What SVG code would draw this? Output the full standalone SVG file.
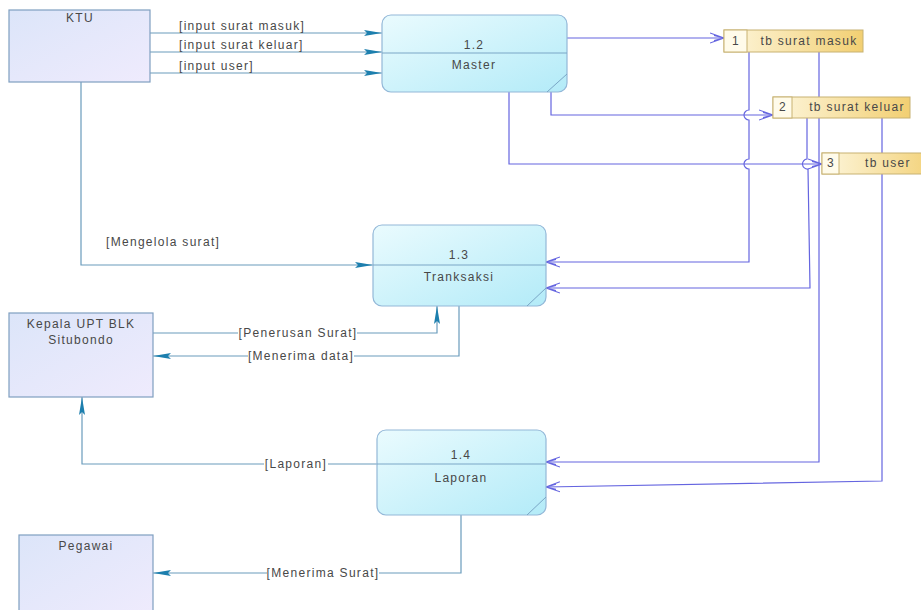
<svg xmlns="http://www.w3.org/2000/svg" width="921" height="610" viewBox="0 0 921 610">
<defs>
<linearGradient id="gEnt" x1="0" y1="0" x2="1" y2="1">
<stop offset="0" stop-color="#dce5f9"/><stop offset="1" stop-color="#efebfd"/>
</linearGradient>
<linearGradient id="gProc" x1="0" y1="0" x2="1" y2="1">
<stop offset="0" stop-color="#eafbfe"/><stop offset="1" stop-color="#b3ebf8"/>
</linearGradient>
<linearGradient id="gStore" x1="0" y1="0" x2="1" y2="0">
<stop offset="0" stop-color="#fdf6dc"/><stop offset="1" stop-color="#f2cf72"/>
</linearGradient>
<marker id="ta" viewBox="0 0 18 8" refX="18" refY="4" markerWidth="18" markerHeight="8" markerUnits="userSpaceOnUse" orient="auto">
<path d="M0,1 L18,4 L0,7 L3,4 Z" fill="#1d7fae"/>
</marker>
<marker id="pa" viewBox="0 0 15 12" refX="14" refY="6" markerWidth="15" markerHeight="12" markerUnits="userSpaceOnUse" orient="auto">
<path d="M0,1 L14,6 L0,11 M4,3.5 L14,6 L4,8.5" fill="none" stroke="#6565e0" stroke-width="1.1"/>
</marker>
</defs>
<style>
.ent{fill:url(#gEnt);stroke:#7f9fc0;stroke-width:1.2}
.proc{fill:url(#gProc);stroke:#93b8d8;stroke-width:1.2}
.div{stroke:#7aa6c6;stroke-width:1}
.store{fill:url(#gStore);stroke:#c8b272;stroke-width:1}
.num{fill:#fffbea;stroke:#c8b272;stroke-width:1}
.t{font-family:"Liberation Sans",Arial,sans-serif;font-size:12px;letter-spacing:1.3px;fill:#484848}
.c{text-anchor:middle}
.tl{fill:none;stroke:#6a9cbc;stroke-width:1.2}
.pl{fill:none;stroke:#6565e0;stroke-width:1.2}
.bg{fill:#ffffff}
</style>
<rect width="921" height="610" fill="#ffffff"/>

<g id="connectors">
<!-- KTU to Master -->
<path class="tl" d="M150,33 H382" marker-end="url(#ta)"/>
<path class="tl" d="M150,52 H382" marker-end="url(#ta)"/>
<path class="tl" d="M150,73 H382" marker-end="url(#ta)"/>
<text class="t" x="179" y="30">[input surat masuk]</text>
<text class="t" x="179" y="49">[input surat keluar]</text>
<text class="t" x="179" y="70">[input user]</text>
<!-- KTU to Transaksi -->
<path class="tl" d="M81,82 V265 H373" marker-end="url(#ta)"/>
<text class="t" x="106" y="246">[Mengelola surat]</text>
<!-- Penerusan Surat -->
<path class="tl" d="M153,333 H437 V306" marker-end="url(#ta)"/>
<rect class="bg" x="238" y="326" width="119" height="13"/>
<text class="t c" x="298" y="337">[Penerusan Surat]</text>
<!-- Menerima data -->
<path class="tl" d="M459,306 V356 H153" marker-end="url(#ta)"/>
<rect class="bg" x="248" y="349" width="106" height="13"/>
<text class="t c" x="301" y="360">[Menerima data]</text>
<!-- Laporan -->
<path class="tl" d="M377,464 H82 V397" marker-end="url(#ta)"/>
<rect class="bg" x="264" y="457" width="64" height="13"/>
<text class="t c" x="296" y="468">[Laporan]</text>
<!-- Menerima Surat -->
<path class="tl" d="M461,515 V573 H153" marker-end="url(#ta)"/>
<rect class="bg" x="267" y="566" width="112" height="13"/>
<text class="t c" x="323" y="577">[Menerima Surat]</text>

<!-- Master to stores -->
<path class="pl" d="M567,38 H724" marker-end="url(#pa)"/>
<path class="pl" d="M551,92 V115 H773" marker-end="url(#pa)"/>
<path class="pl" d="M509,92 V164 H822" marker-end="url(#pa)"/>
<!-- stores to Transaksi -->
<path class="pl" d="M749,52 V110 A5,5 0 0 0 749,120 V159 A5,5 0 0 0 749,169 V262 H546" marker-end="url(#pa)"/>
<path class="pl" d="M807,118 V159 A5,5 0 0 0 808,169 L810,288 H546" marker-end="url(#pa)"/>
<!-- stores to Laporan -->
<path class="pl" d="M819,52 V462 H546" marker-end="url(#pa)"/>
<path class="pl" d="M882,118 V481 L546,487" marker-end="url(#pa)"/>
</g>

<g id="ktu">
<rect class="ent" x="9" y="10" width="141" height="72"/>
<text class="t c" x="80" y="22">KTU</text>
</g>
<g id="kepala">
<rect class="ent" x="9" y="313" width="144" height="84"/>
<text class="t c" x="81" y="328">Kepala UPT BLK</text>
<text class="t c" x="81" y="344">Situbondo</text>
</g>
<g id="pegawai">
<rect class="ent" x="19" y="535" width="134" height="80"/>
<text class="t c" x="86" y="550">Pegawai</text>
</g>

<g id="p12">
<rect class="proc" x="382" y="15" width="185" height="77" rx="9"/>
<line class="div" x1="382" y1="53" x2="567" y2="53"/>
<line class="div" x1="547" y1="92" x2="567" y2="74"/>
<text class="t c" x="474" y="49">1.2</text>
<text class="t c" x="474" y="69">Master</text>
</g>
<g id="p13">
<rect class="proc" x="373" y="225" width="173" height="81" rx="9"/>
<line class="div" x1="373" y1="265" x2="546" y2="265"/>
<line class="div" x1="527" y1="306" x2="546" y2="288"/>
<text class="t c" x="459" y="259">1.3</text>
<text class="t c" x="459" y="281">Tranksaksi</text>
</g>
<g id="p14">
<rect class="proc" x="377" y="430" width="169" height="85" rx="9"/>
<line class="div" x1="377" y1="464" x2="546" y2="464"/>
<line class="div" x1="527" y1="515" x2="546" y2="497"/>
<text class="t c" x="461" y="459">1.4</text>
<text class="t c" x="461" y="482">Laporan</text>
</g>

<g id="s1">
<rect class="store" x="724" y="30" width="139" height="22"/>
<rect class="num" x="724" y="30" width="23" height="22"/>
<text class="t c" x="736" y="45">1</text>
<text class="t c" x="809" y="45">tb surat masuk</text>
</g>
<g id="s2">
<rect class="store" x="773" y="97" width="137" height="21"/>
<rect class="num" x="773" y="97" width="19" height="21"/>
<text class="t c" x="783" y="111">2</text>
<text class="t c" x="857" y="111">tb surat keluar</text>
</g>
<g id="s3">
<rect class="store" x="822" y="153" width="120" height="21"/>
<rect class="num" x="822" y="153" width="17" height="21"/>
<text class="t c" x="831" y="167">3</text>
<text class="t c" x="888" y="167">tb user</text>
</g>
</svg>
